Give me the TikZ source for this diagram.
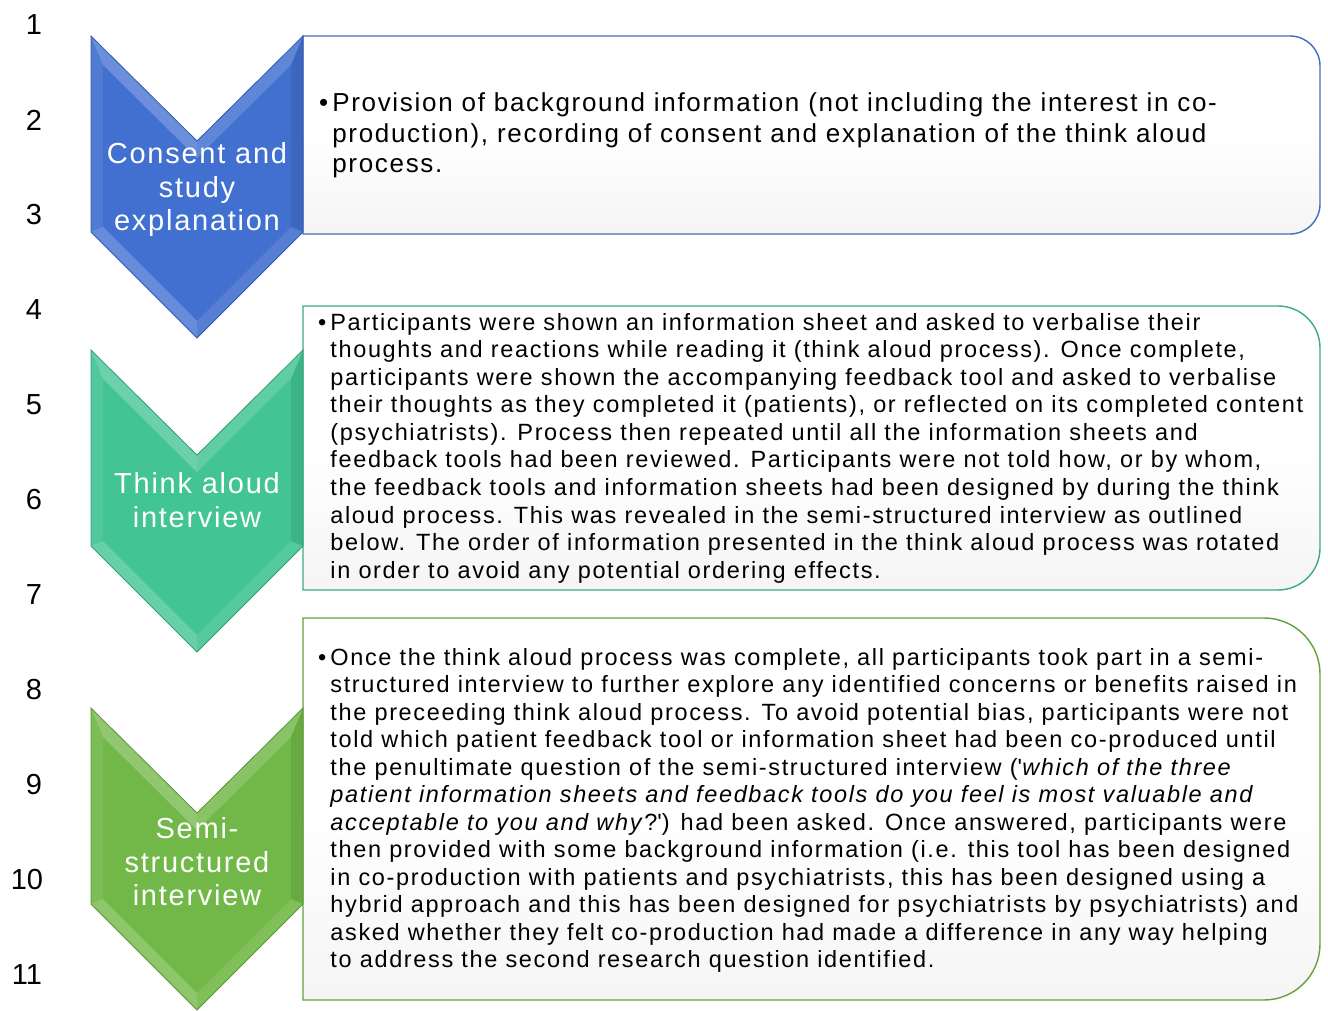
\documentclass[tikz,border=0pt]{standalone}
\usepackage{fontspec}
\setmainfont{Liberation Sans}
\newfontfamily\fontA[LetterSpace=6.5]{Liberation Sans}
\newfontfamily\fontB[LetterSpace=7]{Liberation Sans}
\newfontfamily\fontC[LetterSpace=6]{Liberation Sans}
\definecolor{cblue}{RGB}{66,112,208}
\definecolor{cbluebd}{RGB}{68,108,190}
\definecolor{cteal}{RGB}{66,196,148}
\definecolor{ctealbd}{RGB}{62,170,128}
\definecolor{cgreen}{RGB}{114,184,72}
\definecolor{cgreenbd}{RGB}{98,160,62}
\newcommand{\mychev}[2]{% #1 top y, #2 colour
  \pgfmathsetmacro{\ya}{#1}
  \pgfmathsetmacro{\yb}{#1+105}
  \pgfmathsetmacro{\yc}{#1+196}
  \pgfmathsetmacro{\yd}{#1+302}
  \pgfmathsetmacro{\yai}{#1+29}
  \pgfmathsetmacro{\ybi}{#1+122}
  \pgfmathsetmacro{\yci}{#1+191}
  \pgfmathsetmacro{\ydi}{#1+285}
  \fill[#2] (91,\ya) -- (197,\yb) -- (303,\ya) -- (303,\yc) -- (197,\yd) -- (91,\yc) -- cycle;
  \fill[white,opacity=0.22] (91,\ya) -- (197,\yb) -- (197,\ybi) -- (103,\yai) -- cycle;
  \fill[white,opacity=0.16] (197,\yb) -- (303,\ya) -- (291,\yai) -- (197,\ybi) -- cycle;
  \fill[white,opacity=0.08] (91,\ya) -- (103,\yai) -- (103,\yci) -- (91,\yc) -- cycle;
  \fill[black,opacity=0.08] (303,\ya) -- (303,\yc) -- (291,\yci) -- (291,\yai) -- cycle;
  \fill[white,opacity=0.20] (91,\yc) -- (103,\yci) -- (197,\ydi) -- (197,\yd) -- cycle;
  \fill[white,opacity=0.10] (303,\yc) -- (197,\yd) -- (197,\ydi) -- (291,\yci) -- cycle;
  \draw[#2!80!black,line width=0.8pt,line join=miter] (91,\ya) -- (197,\yb) -- (303,\ya) -- (303,\yc) -- (197,\yd) -- (91,\yc) -- cycle;
}
\newcommand{\mybox}[4]{% #1 top, #2 bottom, #3 radius, #4 colour
  \draw[#4,line width=1.4pt,top color=white,bottom color=black!4,middle color=white]
    (303,#1) -- ({1320-#3},#1) arc[start angle=-90,end angle=0,radius=#3]
    -- (1320,{#2-#3}) arc[start angle=0,end angle=90,radius=#3] -- (303,#2) -- cycle;
}
\begin{document}
\begin{tikzpicture}[x=1pt,y=-1pt,
  numlab/.style={font=\fontsize{29}{33}\selectfont,inner sep=0pt,anchor=center},
  chevlab/.style={font=\fontC\fontsize{29}{33.5}\selectfont,text=white,align=center,inner sep=0pt,anchor=center},
  bodytxt/.style={inner sep=0pt,anchor=base west}]
\useasboundingbox (0,0) rectangle (1328,1011);
% boxes
\mybox{36}{234}{30}{cbluebd}
\mybox{306}{590}{42}{ctealbd}
\mybox{618}{1000}{56}{cgreenbd}
% chevrons
\mychev{36}{cblue}
\mychev{350}{cteal}
\mychev{708}{cgreen}
% chevron labels
\node[chevlab] (c1) at (197,190) {Consent and\\study\\explanation};
\node[chevlab] (c2) at (197,500) {Think aloud\\interview};
\node[chevlab] (c3) at (197,862) {Semi-\\structured\\interview};
% numbers
\node[numlab] (n1) at (34,25) {1};
\node[numlab] (n2) at (34,120) {2};
\node[numlab] (n3) at (34,215) {3};
\node[numlab] (n4) at (34,310) {4};
\node[numlab] (n5) at (34,405) {5};
\node[numlab] (n6) at (34,500) {6};
\node[numlab] (n7) at (34,595) {7};
\node[numlab] (n8) at (34,690) {8};
\node[numlab] (n9) at (34,785) {9};
\node[numlab] (n10) at (27,880) {10};
\node[numlab] (n11) at (27,975) {11};
% texts
\node[bodytxt,font=\fontA\fontsize{26}{30.5}\selectfont] (t1) at (319,112) {%
\begin{tabular}[t]{@{}l@{\hspace{4pt}}l@{}}
\textbullet & Provision of background information (not including the interest in co-\\
 & production), recording of consent and explanation of the think aloud\\
 & process.
\end{tabular}};
\node[bodytxt,font=\fontB\fontsize{23.5}{27.6}\selectfont] (t2) at (318,330) {%
\begin{tabular}[t]{@{}l@{\hspace{4pt}}l@{}}
\textbullet & Participants were shown an information sheet and asked to verbalise their\\
 & thoughts and reactions while reading it (think aloud process). Once complete,\\
 & participants were shown the accompanying feedback tool and asked to verbalise\\
 & their thoughts as they completed it (patients), or reflected on its completed content\\
 & (psychiatrists). Process then repeated until all the information sheets and\\
 & feedback tools had been reviewed. Participants were not told how, or by whom,\\
 & the feedback tools and information sheets had been designed by during the think\\
 & aloud process. This was revealed in the semi-structured interview as outlined\\
 & below. The order of information presented in the think aloud process was rotated\\
 & in order to avoid any potential ordering effects.
\end{tabular}};
\node[bodytxt,font=\fontB\fontsize{23.5}{27.5}\selectfont] (t3) at (318,665) {%
\begin{tabular}[t]{@{}l@{\hspace{4pt}}l@{}}
\textbullet & Once the think aloud process was complete, all participants took part in a semi-\\
 & structured interview to further explore any identified concerns or benefits raised in\\
 & the preceeding think aloud process. To avoid potential bias, participants were not\\
 & told which patient feedback tool or information sheet had been co-produced until\\
 & the penultimate question of the semi-structured interview (\textquotesingle\textit{which of the three}\\
 & \textit{patient information sheets and feedback tools do you feel is most valuable and}\\
 & \textit{acceptable to you and why}?\textquotesingle) had been asked. Once answered, participants were\\
 & then provided with some background information (i.e. this tool has been designed\\
 & in co-production with patients and psychiatrists, this has been designed using a\\
 & hybrid approach and this has been designed for psychiatrists by psychiatrists) and\\
 & asked whether they felt co-production had made a difference in any way helping\\
 & to address the second research question identified.
\end{tabular}};
\end{tikzpicture}
\end{document}
